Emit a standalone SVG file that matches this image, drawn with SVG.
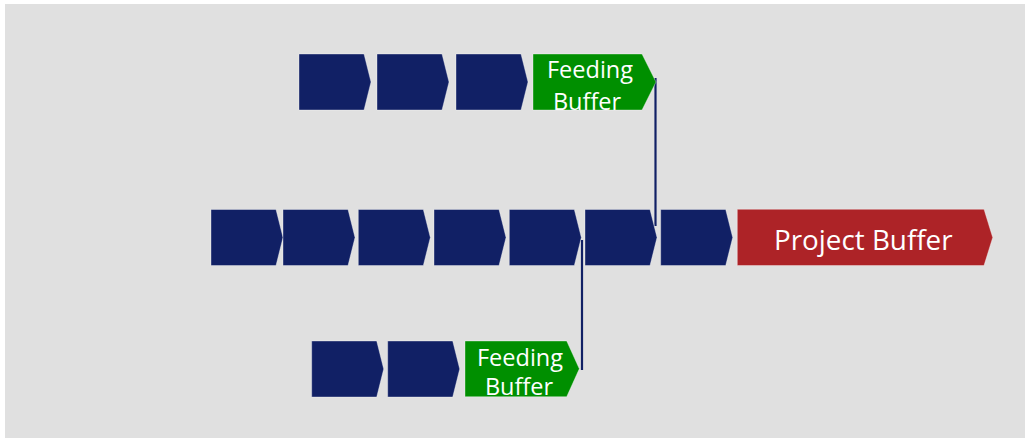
<svg xmlns="http://www.w3.org/2000/svg" width="1025" height="438" viewBox="0 0 1025 438">
  <defs>
    <style>
      .task { fill: #112065; stroke: #ffffff; stroke-opacity: 0.35; stroke-width: 1; }
      .feed { fill: #008f00; stroke: #ffffff; stroke-opacity: 0.35; stroke-width: 1; }
      .proj { fill: #ad2327; stroke: #ffffff; stroke-opacity: 0.35; stroke-width: 1; }
      .lbl { fill: #ffffff; font-family: "Open Sans", "Liberation Sans", sans-serif; text-anchor: middle; }
      .link { stroke: #112065; stroke-width: 2.2; fill: none; }
    </style>
    <!-- standard task chevron: 65 px body, 7 px point, 56 px tall -->
    <path id="chev" d="M0,0 H65 L72,28 L65,56 H0 Z"/>
    <clipPath id="clipTopFeed"><path d="M533,54 H642 L656,82 L642,110 H533 Z"/></clipPath>
    <clipPath id="clipBotFeed"><path d="M465,341 H566.7 L579.3,368.8 L566.7,396.7 H465 Z"/></clipPath>
  </defs>

  <!-- canvas -->
  <rect x="5" y="4" width="1020" height="434" fill="#e0e0e0"/>

  <!-- connectors: feeding chains merging into the critical chain -->
  <g id="connectors">
    <line class="link" x1="655.5" y1="78" x2="655.5" y2="226"/>
    <line class="link" x1="582" y1="240" x2="582" y2="370"/>
  </g>

  <!-- upper feeding chain -->
  <g id="top-task-1"><use href="#chev" class="task" x="299" y="54"/></g>
  <g id="top-task-2"><use href="#chev" class="task" x="377" y="54"/></g>
  <g id="top-task-3"><use href="#chev" class="task" x="456" y="54"/></g>
  <g id="top-feeding-buffer">
    <path class="feed" d="M533,54 H642 L656,82 L642,110 H533 Z"/>
    <g clip-path="url(#clipTopFeed)">
      <text class="lbl" x="590" y="77.5" font-size="23.5">Feeding</text>
      <text class="lbl" x="587" y="109.5" font-size="23.5">Buffer</text>
    </g>
  </g>

  <!-- critical chain -->
  <g id="crit-task-1"><use href="#chev" class="task" x="211" y="209.5"/></g>
  <g id="crit-task-2"><use href="#chev" class="task" x="283" y="209.5"/></g>
  <g id="crit-task-3"><use href="#chev" class="task" x="358.3" y="209.5"/></g>
  <g id="crit-task-4"><use href="#chev" class="task" x="434" y="209.5"/></g>
  <g id="crit-task-5"><use href="#chev" class="task" x="509.3" y="209.5"/></g>
  <g id="crit-task-6"><use href="#chev" class="task" x="585" y="209.5"/></g>
  <g id="crit-task-7"><use href="#chev" class="task" x="660.7" y="209.5"/></g>
  <g id="project-buffer">
    <path class="proj" d="M737.3,209.3 H984 L992.7,237.5 L984,265.5 H737.3 Z"/>
    <text class="lbl" x="863.3" y="250" font-size="27.8">Project Buffer</text>
  </g>

  <!-- lower feeding chain -->
  <g id="bot-task-1"><use href="#chev" class="task" x="311.7" y="341"/></g>
  <g id="bot-task-2"><use href="#chev" class="task" x="387.7" y="341"/></g>
  <g id="bot-feeding-buffer">
    <path class="feed" d="M465,341 H566.7 L579.3,368.8 L566.7,396.7 H465 Z"/>
    <g clip-path="url(#clipBotFeed)">
      <text class="lbl" x="520" y="365.5" font-size="23.5">Feeding</text>
      <text class="lbl" x="519" y="395" font-size="23.5">Buffer</text>
    </g>
  </g>
</svg>
